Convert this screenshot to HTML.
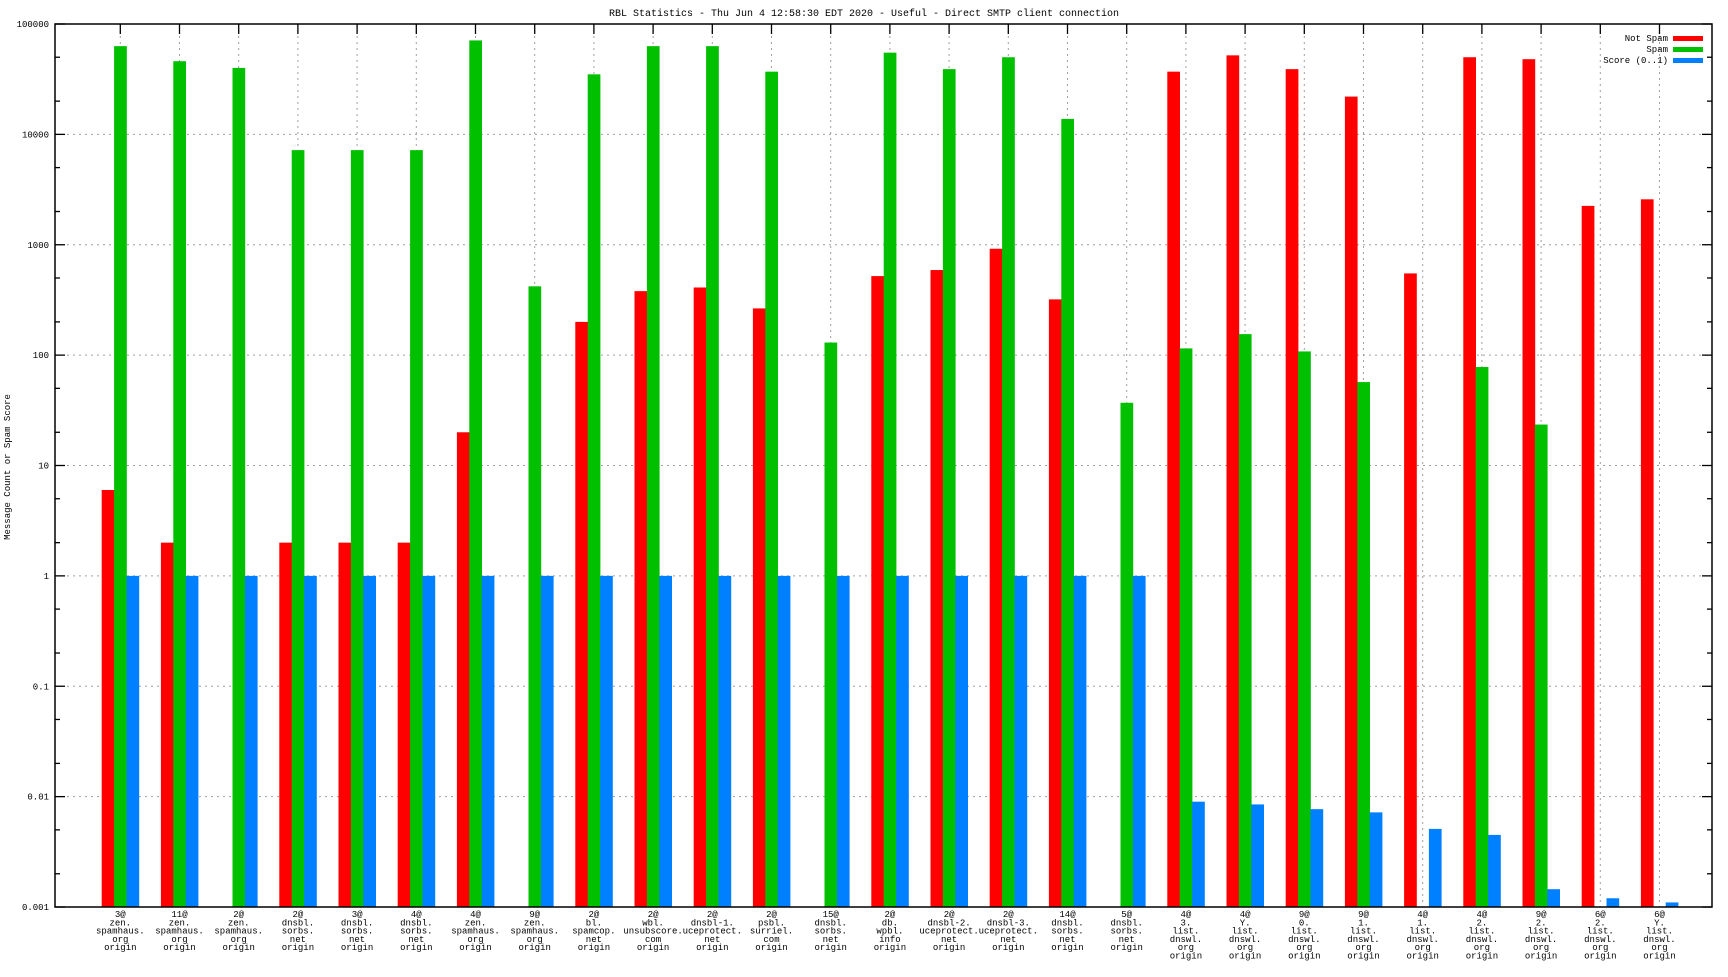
<!DOCTYPE html>
<html><head><meta charset="utf-8"><style>
html,body{margin:0;padding:0;background:#fff;}
svg text{font-family:"Liberation Mono","DejaVu Sans Mono",monospace;fill:#000;}
</style></head><body>
<svg id="chart" width="1728" height="972" xmlns="http://www.w3.org/2000/svg">
<text x="864" y="16" font-size="10" text-anchor="middle">RBL Statistics - Thu Jun  4 12:58:30 EDT 2020 - Useful - Direct SMTP client connection</text>
<text transform="translate(10,467) rotate(-90)" font-size="9" text-anchor="middle">Message Count or Spam Score</text>
<g id="grid"></g><g id="bars"></g><g id="axes"></g><g id="labels"></g>
<g>
<text x="1668" y="41" font-size="9" text-anchor="end">Not Spam</text>
<rect x="1673" y="36" width="30" height="5" fill="#ff0000"/>
<text x="1668" y="52" font-size="9" text-anchor="end">Spam</text>
<rect x="1673" y="47" width="30" height="5" fill="#00c000"/>
<text x="1668" y="63" font-size="9" text-anchor="end">Score (0..1)</text>
<rect x="1673" y="58" width="30" height="5" fill="#0080ff"/>
</g>
</svg>
<script>
const categories = [
"3@|zen.|spamhaus.|org|origin","11@|zen.|spamhaus.|org|origin","2@|zen.|spamhaus.|org|origin",
"2@|dnsbl.|sorbs.|net|origin","3@|dnsbl.|sorbs.|net|origin","4@|dnsbl.|sorbs.|net|origin",
"4@|zen.|spamhaus.|org|origin","9@|zen.|spamhaus.|org|origin","2@|bl.|spamcop.|net|origin",
"2@|wbl.|unsubscore.|com|origin","2@|dnsbl-1.|uceprotect.|net|origin","2@|psbl.|surriel.|com|origin",
"15@|dnsbl.|sorbs.|net|origin","2@|db.|wpbl.|info|origin","2@|dnsbl-2.|uceprotect.|net|origin",
"2@|dnsbl-3.|uceprotect.|net|origin","14@|dnsbl.|sorbs.|net|origin","5@|dnsbl.|sorbs.|net|origin",
"4@|3.|list.|dnswl.|org|origin","4@|Y.|list.|dnswl.|org|origin","9@|0.|list.|dnswl.|org|origin",
"9@|1.|list.|dnswl.|org|origin","4@|1.|list.|dnswl.|org|origin","4@|2.|list.|dnswl.|org|origin",
"9@|2.|list.|dnswl.|org|origin","6@|2.|list.|dnswl.|org|origin","6@|Y.|list.|dnswl.|org|origin"];
const notSpam = [6,2,0,2,2,2,20,0,200,380,410,265,0,520,590,920,320,0,37000,52000,39000,22000,550,50000,48000,2250,2580];
const spam = [63000,46000,40000,7200,7200,7200,71000,420,35000,63000,63000,37000,130,55000,39000,50000,13800,37,115,155,108,57,0,78,23.5,0,0];
const score = [1,1,1,1,1,1,1,1,1,1,1,1,1,1,1,1,1,1,0.009,0.0085,0.0077,0.0072,0.0051,0.0045,0.00145,0.0012,0.0011];
const yTickValues = [0.001,0.01,0.1,1,10,100,1000,10000,100000];
const yTickLabels = ["0.001","0.01","0.1","1","10","100","1000","10000","100000"];

const NS="http://www.w3.org/2000/svg";
const L=55,R=1712,T=24,B=907,X0=101.7,STEP=59.2,BW=12.4;
const yMin=-3,yMax=5;
function yScale(v){return B-(Math.log10(v)-yMin)/(yMax-yMin)*(B-T);}
function xGroup(i){return X0+i*STEP;}
function mk(tag,attrs,parent){const e=document.createElementNS(NS,tag);for(const k in attrs)e.setAttribute(k,attrs[k]);parent.appendChild(e);return e;}
const grid=document.getElementById('grid'),bars=document.getElementById('bars'),axes=document.getElementById('axes'),labels=document.getElementById('labels');

yTickValues.forEach((v,i)=>{
  const y=yScale(v);
  if(i>0&&i<yTickValues.length-1){
    const g=mk('line',{x1:L,x2:R,y1:y,y2:y,stroke:'#a0a0a0','stroke-dasharray':'2,4','stroke-width':1},grid);
    
    
  }
  const t=mk('text',{x:49,y:y+3,'font-size':9,'text-anchor':'end'},axes);
  t.textContent=yTickLabels[i];
  
  
  [[L,L+10],[R-10,R]].forEach(p=>{const tk=mk('line',{x1:p[0],x2:p[1],y1:y,y2:y,stroke:'#000','stroke-width':1.3},axes);
    
    });
  if(i<yTickValues.length-1){[2,5].forEach(m=>{const ym=yScale(v*m);
    [[L,L+5],[R-5,R]].forEach(p=>{const tk=mk('line',{x1:p[0],x2:p[1],y1:ym,y2:ym,stroke:'#000','stroke-width':1.3},axes);
      
      });});}
});

categories.forEach((c,i)=>{
  const x0=xGroup(i),cx=x0+BW*1.5;
  const gl=mk('line',{x1:cx,x2:cx,y1:T,y2:B,stroke:'#a0a0a0','stroke-dasharray':'2,4','stroke-width':1},grid);
  
  
  const tk=mk('line',{x1:cx,x2:cx,y1:T,y2:T+10,stroke:'#000','stroke-width':1.3},axes);
  
  
  [[notSpam,'#ff0000','bar-not-spam'],[spam,'#00c000','bar-spam'],[score,'#0080ff','bar-score']].forEach((s,k)=>{
    const v=s[0][i]; if(!(v>0))return;
    const y=Math.max(T,yScale(v));
    const r=mk('rect',{x:x0+k*BW,y:y,width:BW+0.3,height:B-y,fill:s[1]},bars);
    
    
  });
  const t=mk('text',{'font-size':9,'text-anchor':'middle'},labels);
  
  
  c.split('|').forEach((ln,j)=>{const s=mk('tspan',{x:cx,y:917+j*8.3},t);s.textContent=ln;});
});
const frame=mk('rect',{x:L,y:T,width:R-L,height:B-T,fill:'none',stroke:'#000','stroke-width':1.5},axes);


</script>
</body></html>
